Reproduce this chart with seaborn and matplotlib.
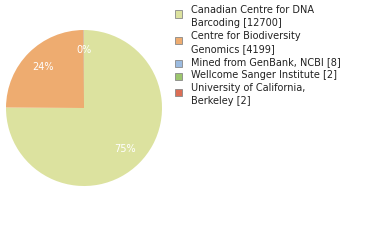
import matplotlib
matplotlib.use("Agg")
import matplotlib.pyplot as plt
import seaborn as sns
from matplotlib.patches import Rectangle

sns.set_style("white")
plt.rcParams['font.family'] = ['DejaVu Sans']

labels = ["Canadian Centre for DNA\nBarcoding [12700]",
          "Centre for Biodiversity\nGenomics [4199]",
          "Mined from GenBank, NCBI [8]",
          "Wellcome Sanger Institute [2]",
          "University of California,\nBerkeley [2]"]
values = [12700, 4199, 8, 2, 2]
colors = ["#dce29f", "#eeac70", "#9bbbe0", "#9cc66e", "#dc6e55"]

W, H = 380, 240
fig = plt.figure(figsize=(W / 100, H / 100), dpi=100)
ax = fig.add_axes([6/W, (H-186)/H, 156/W, 156/H])
wedges, texts, autotexts = ax.pie(
    values, colors=colors, startangle=90, counterclock=False,
    autopct=lambda p: f"{int(p)}%", pctdistance=0.75, radius=1.0,
    textprops=dict(color="white", fontsize=7),
    wedgeprops=dict(linewidth=0))
for t in autotexts[3:]:
    t.set_visible(False)
ax.set_xlim(-1, 1)
ax.set_ylim(-1, 1)
ax.set_aspect("equal")
ax.axis("off")

# legend drawn manually (pixel layout, top-down)
line_h = 13
base = 13
for lab, col in zip(labels, colors):
    lines = lab.split("\n")
    yc = base - 2 + (len(lines) - 1) * 3
    fig.patches.append(Rectangle((175/W, 1 - (yc + 3.5)/H), 7/W, 7/H,
                                 transform=fig.transFigure, facecolor=col,
                                 edgecolor="#888888", linewidth=0.6))
    for i, ln in enumerate(lines):
        fig.text(191/W, 1 - (base + i * line_h)/H, ln, fontsize=7,
                 color="#222222", va="baseline", ha="left")
    base += len(lines) * line_h

fig.savefig("out.png", dpi=100)
